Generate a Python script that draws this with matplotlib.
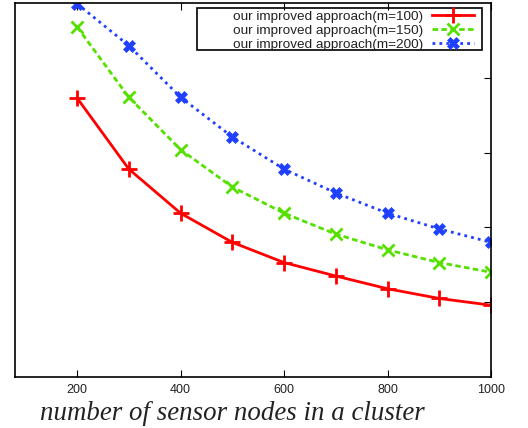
import numpy as np
import matplotlib
matplotlib.use("Agg")
import matplotlib.pyplot as plt
from matplotlib.patches import Rectangle

# x: number of sensor nodes, y: unlabelled metric (relative units)
nodes = [200, 300, 400, 500, 600, 700, 800, 900, 1000]
m100 = [3.73, 2.78, 2.19, 1.80, 1.53, 1.35, 1.18, 1.05, 0.96]
m150 = [4.68, 3.74, 3.04, 2.54, 2.19, 1.91, 1.70, 1.53, 1.40]
m200 = [4.99, 4.43, 3.74, 3.21, 2.78, 2.46, 2.19, 1.98, 1.80]
labels = ["our improved approach(m=100)",
          "our improved approach(m=150)",
          "our improved approach(m=200)"]

W, H = 528, 428
fig = plt.figure(figsize=(W / 100, H / 100), dpi=100)
ax = fig.add_axes([15 / W, 51 / H, 476 / W, 374 / H])

ax.plot(nodes, m100, color="#ff0000", lw=2, ls="-", marker="+",
        ms=11, mew=2, label=labels[0])
ax.plot(nodes, m150, color="#55e000", lw=2, ls=(0, (2, 1.2)), marker="x",
        ms=9, mew=2, label=labels[1])
ax.plot(nodes, m200, color="#2040ff", lw=2, ls=(0, (1, 1.5)), marker="X",
        ms=9, mew=0.5, label=labels[2])

ax.set_xlim(80, 1000)
ax.set_ylim(0, 5)
ax.set_xticks([200, 400, 600, 800, 1000])
ax.set_yticks([1, 2, 3, 4])
ax.tick_params(axis="x", direction="in", top=True, length=5, labelsize=9,
               labelcolor="#222222", pad=5)
ax.tick_params(axis="y", direction="in", left=False, right=True,
               labelleft=False, length=5)
for lab in ax.get_xticklabels():
    lab.set_fontfamily("Liberation Sans")
for s in ax.spines.values():
    s.set_linewidth(1.2)

ax.set_xlabel("number of sensor nodes in a cluster", family="Liberation Serif",
              style="italic", fontsize=19.4, color="#222222")
ax.xaxis.set_label_coords(217 / 476, -37 / 374)
ax.xaxis.label.set_va("center")

# gnuplot-style key: right-aligned text, sample on the right, boxed
leg = ax.legend(loc="upper right", bbox_to_anchor=(459 / 476, 1 - 7.5 / 374),
                markerfirst=False, frameon=False,
                labelspacing=0.12, handlelength=3.1, handletextpad=0.65,
                borderaxespad=0, borderpad=0,
                prop={"family": "Liberation Sans", "size": 9.7})
for t in leg.get_texts():
    t.set_color("#222222")
ax.add_patch(Rectangle(((197 - 15) / 476, 1 - (50 - 3) / 374),
                       (482 - 197) / 476, (50 - 8) / 374,
                       transform=ax.transAxes, fill=False, ec="black",
                       lw=1.2, zorder=5))

fig.savefig("out.png", dpi=100)
